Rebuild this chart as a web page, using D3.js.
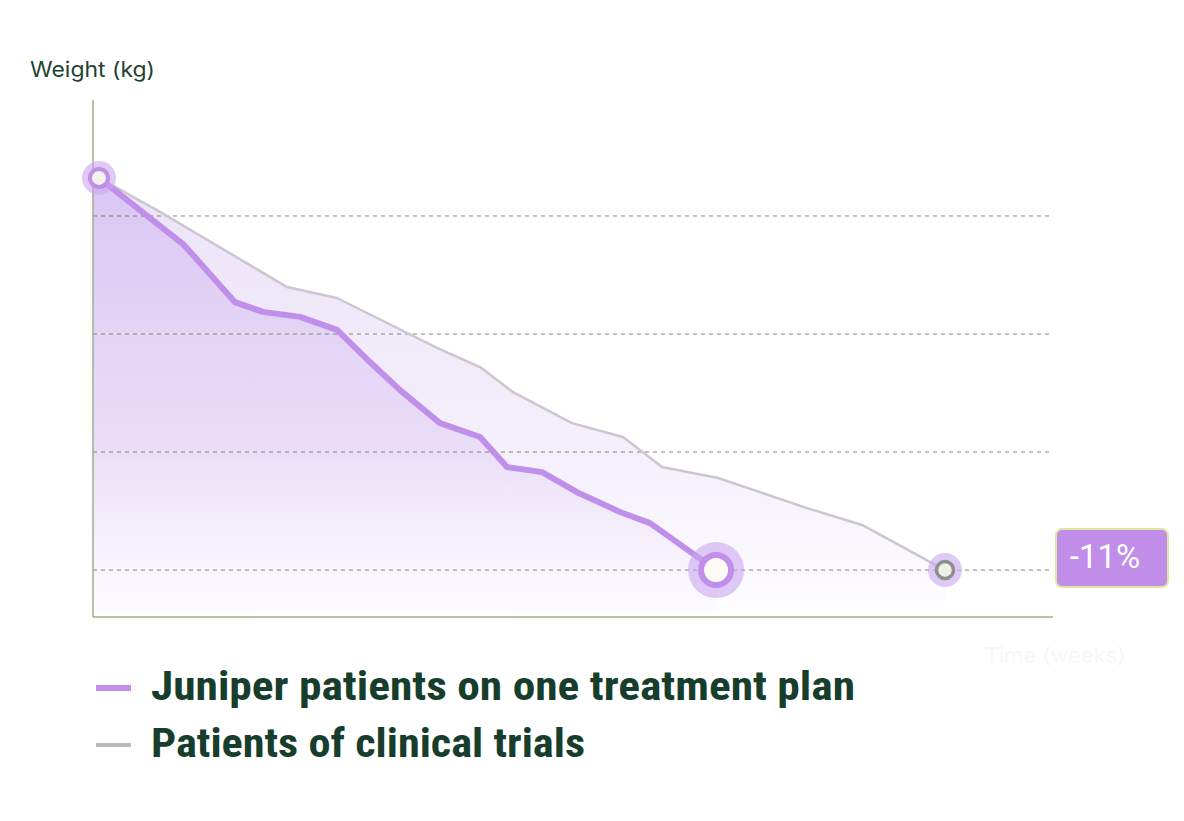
<!DOCTYPE html>
<html><head><meta charset="utf-8">
<script src="https://cdn.jsdelivr.net/npm/d3@7"></script>
<style>
html,body{margin:0;padding:0;background:#fff;}
svg{display:block;}
</style></head>
<body>
<svg id="chart" width="1184" height="821"></svg>
<script>
// ---- data ----
const juniperWeeks  = [0, 6.83, 10.93, 13.18, 16.16, 19.13, 21.78, 24.20, 27.41, 30.63, 32.80, 35.61, 38.42, 41.88, 44.29, 49.60];
const juniperWeight = [101.29, 99.02, 97.08, 96.75, 96.58, 96.14, 95.05, 94.10, 92.98, 92.51, 91.49, 91.32, 90.64, 89.97, 89.59, 88.00];
const trialWeeks    = [0, 4.90, 15.11, 19.13, 27.17, 30.63, 33.28, 38.02, 42.12, 45.26, 49.76, 56.91, 61.33, 68.0];
const trialWeight   = [101.29, 100.14, 97.59, 97.22, 95.53, 94.88, 94.03, 92.98, 92.51, 91.49, 91.12, 90.10, 89.53, 88.00];
const gridTicks     = [88, 92, 96, 100];
const seriesNames   = ["Juniper patients on one treatment plan", "Patients of clinical trials"];
const changeLabel   = "-11%";
const yAxisTitle    = "Weight (kg)";
const xAxisTitle    = "Time (weeks)";

const juniper = juniperWeeks.map((w,i)=>({x:w,y:juniperWeight[i]}));
const trial   = trialWeeks.map((w,i)=>({x:w,y:trialWeight[i]}));

const svg = d3.select("#chart");
const x = d3.scaleLinear().domain([0,68]).range([99,945]);
const xAxisEnd = 1053, xAxisStart = 93;
const y = d3.scaleLinear().domain([86.41,103.93]).range([617,100]);

const defs = svg.append("defs");
const g1 = defs.append("linearGradient").attr("id","gJ")
  .attr("gradientUnits","userSpaceOnUse").attr("x1",0).attr("x2",0).attr("y1",178).attr("y2",617);
g1.append("stop").attr("offset",0).attr("stop-color","#dac5f3").attr("stop-opacity",0.95);
g1.append("stop").attr("offset",0.6).attr("stop-color","#e6d8f7").attr("stop-opacity",0.8);
g1.append("stop").attr("offset",1).attr("stop-color","#f8f3fd").attr("stop-opacity",0.15);
const g2 = defs.append("linearGradient").attr("id","gT")
  .attr("gradientUnits","userSpaceOnUse").attr("x1",0).attr("x2",0).attr("y1",178).attr("y2",617);
g2.append("stop").attr("offset",0).attr("stop-color","#ece3f8").attr("stop-opacity",1);
g2.append("stop").attr("offset",0.6).attr("stop-color","#f4effb").attr("stop-opacity",1);
g2.append("stop").attr("offset",1).attr("stop-color","#fefdff").attr("stop-opacity",1);

const area = d3.area().x(d=>x(d.x)).y0(y(86.6)).y1(d=>y(d.y));
const trialArea = [{x:-0.48,y:trialWeight[0]}, ...trial];
const junArea = [{x:-0.48,y:juniperWeight[0]}, ...juniper];
svg.append("path").datum(trialArea).attr("d",area).attr("fill","url(#gT)");
svg.append("path").datum(junArea).attr("d",area).attr("fill","url(#gJ)");

// grid
svg.append("g").selectAll("line").data(gridTicks).join("line")
  .attr("x1",xAxisStart).attr("x2",xAxisEnd).attr("y1",d=>y(d)).attr("y2",d=>y(d))
  .attr("stroke","#858570").attr("stroke-width",1).attr("stroke-dasharray","4,4");

// axes
svg.append("line").attr("x1",xAxisStart).attr("x2",xAxisStart).attr("y1",100).attr("y2",617)
  .attr("stroke","#a3ab90").attr("stroke-width",1.5);
svg.append("line").attr("x1",xAxisStart).attr("x2",xAxisEnd).attr("y1",617).attr("y2",617)
  .attr("stroke","#a3ab90").attr("stroke-width",1.5);

const line = d3.line().x(d=>x(d.x)).y(d=>y(d.y));
svg.append("path").datum(trial).attr("d",line).attr("fill","none")
  .attr("stroke","#cdc6d0").attr("stroke-width",2.5).attr("stroke-linejoin","round");
svg.append("path").datum(juniper).attr("d",line).attr("fill","none")
  .attr("stroke","#c08fea").attr("stroke-width",6).attr("stroke-linejoin","round").attr("stroke-linecap","round");

// markers
function marker(d, halo, ring, ringW, ringColor, fill){
  svg.append("circle").attr("cx",x(d.x)).attr("cy",y(d.y)).attr("r",halo).attr("fill","#c9a6f0").attr("opacity",0.6);
  svg.append("circle").attr("cx",x(d.x)).attr("cy",y(d.y)).attr("r",ring).attr("fill",fill)
    .attr("stroke",ringColor).attr("stroke-width",ringW);
}
marker(juniper[0], 17, 9, 4, "#c08fea", "#f4f2ea");
marker(trial[trial.length-1], 17, 8.5, 3.5, "#8e8e8a", "#eef0e8");
marker(juniper[juniper.length-1], 28, 15, 6, "#c08fea", "#fcfbf6");

// -11% label
const lx = 1056, ly = y(88) - 41;
svg.append("rect").attr("x",lx).attr("y",ly).attr("width",112).attr("height",58).attr("rx",6)
  .attr("fill","#c08de9").attr("stroke","#dfe69e").attr("stroke-width",2);
svg.append("text").attr("x",lx+49).attr("y",ly+39).attr("text-anchor","middle")
  .attr("font-family","Liberation Sans Narrow, Roboto, sans-serif").attr("font-size",33).attr("fill","#fff")
  .text(changeLabel);

// titles
svg.append("text").attr("x",30).attr("y",77).attr("font-family","Inter, 'Noto Sans', sans-serif")
  .attr("font-size",21).attr("fill","#1f4232").attr("textLength",125).attr("lengthAdjust","spacingAndGlyphs")
  .text(yAxisTitle);
svg.append("text").attr("x",1055).attr("y",663).attr("text-anchor","middle").attr("font-family","Inter, sans-serif")
  .attr("font-size",22).attr("fill","#f7f7f7").text(xAxisTitle);

// legend
const legColors = ["#c08fea","#b8b8b8"];
const legY = [688, 745];
seriesNames.forEach((n,i)=>{
  svg.append("line").attr("x1",96).attr("x2",131).attr("y1",legY[i]).attr("y2",legY[i])
    .attr("stroke",legColors[i]).attr("stroke-width",i===0?6:4);
  svg.append("text").attr("x",151).attr("y",legY[i]+12)
    .attr("font-family","Liberation Sans Narrow, 'Roboto Condensed', sans-serif")
    .attr("font-weight","bold").attr("font-size",40).attr("fill","#173d2c")
    .attr("textLength", i===0?704:434).attr("lengthAdjust","spacingAndGlyphs")
    .text(n);
});
</script>
</body></html>
